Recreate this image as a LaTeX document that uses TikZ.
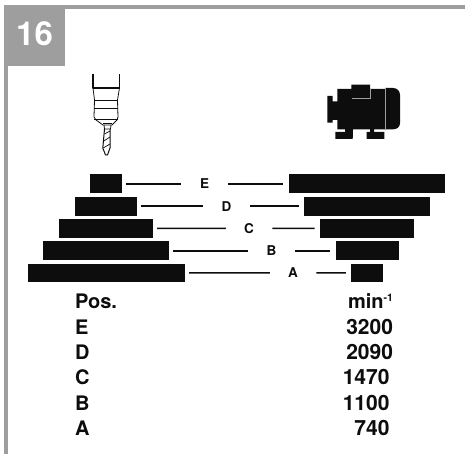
\documentclass[tikz,border=0pt]{standalone}
\usepackage{fontspec}
\setmainfont{TeX Gyre Heros}
\definecolor{framegray}{HTML}{9E9E9E}
\definecolor{ink}{HTML}{0D0D0D}
\tikzset{
  x=1pt,y=-1pt,
  bar/.style={fill=ink,draw=none,inner sep=0pt,outer sep=0pt,anchor=north west},
  conn/.style={draw=ink,line width=1.7pt},
  connl/.style={conn,shorten <=4pt},
  connr/.style={conn,shorten >=5.5pt},
  poslabel/.style={inner sep=0pt,outer sep=0pt,minimum width=46.5pt,minimum height=10pt,text=ink,font=\fontsize{13.5}{14}\bfseries\selectfont},
  tabl/.style={inner sep=0pt,outer sep=0pt,text=ink,anchor=base west,font=\fontsize{20}{21}\bfseries\selectfont},
  tabr/.style={inner sep=0pt,outer sep=0pt,text=ink,anchor=base east,font=\fontsize{21}{22}\bfseries\selectfont},
  tool/.style={draw=ink,line join=round},
}
\newcommand{\barnode}[5]{\node[bar,minimum width=#4pt,minimum height=#5pt] (#1) at (#2,#3) {};}
\begin{document}
\begin{tikzpicture}
\useasboundingbox (0,0) rectangle (465,454);
% frame
\fill[framegray] (4,5) rectangle (465,9);
\fill[framegray] (4,5) rectangle (65,66);
\fill[framegray] (4,66) rectangle (8,453.5);
\node[inner sep=0pt,anchor=base west,text=white,font=\fontsize{33}{34}\bfseries\selectfont] (num) at (16,46) {16};
% drill
\draw[tool,line width=1.1pt] (93,74) -- (93,88) -- (119.5,88) -- (119.5,74);
\draw[tool,line width=0.8pt] (93,88) -- (94.5,100) -- (94,117) -- (96,120) -- (103,125) -- (112,125) -- (117,120) -- (118,117) -- (117.5,100) -- (119.5,88);
\draw[tool,line width=0.6pt] (94.5,100) -- (117.5,100);
\draw[tool,line width=1.6pt] (94.3,108.5) -- (117.7,108.5);
\draw[tool,line width=0.6pt] (94,119) -- (118,119);
\draw[tool,line width=1pt] (103,124) -- (112,124);
\draw[tool,line width=0.8pt] (104,125) -- (104.5,129) -- (110.5,129) -- (111,125);
\draw[tool,line width=1pt] (104.5,129) -- (102.8,148) -- (105.5,155) -- (107.5,155) -- (110,148) -- (110,129);
\draw[tool,line width=0.7pt] (104.5,134) -- (110,131) (103.8,141) -- (110,137) (103.3,148) -- (110,144);
% motor
\fill[ink] (327.3,96) -- (332.7,96) -- (332.7,101.3) -- (337.3,101.3) -- (337.3,89) -- (351.3,89) -- (351.3,84.7) -- (370,84.7) -- (370,89) -- (385,89) -- (385,129.3) -- (374,129.3) -- (374,132) -- (384.3,132) -- (384.3,139) -- (366.7,139) -- (366.7,132) -- (370,132) -- (370,129.3) -- (353,129.3) -- (352.7,139) -- (335.3,139) -- (335.3,132) -- (345,132) -- (345,129.3) -- (337.3,129.3) -- (337.3,120) -- (332.7,120) -- (332.7,122.7) -- (327.3,122.7) -- cycle;
\fill[ink] (385,88) -- (393,88) .. controls (397,88) and (400,91) .. (400,95) -- (400,123) .. controls (400,127) and (397,129.3) .. (393,129.3) -- (385,129.3) -- cycle;
\draw[framegray,line width=0.9pt] (385.3,88) -- (385.3,129.3);
\draw[framegray,line width=0.5pt] (351.7,98) -- (370,98) -- (370,89.5);
% bars left
\barnode{lE}{90}{174.5}{32}{18.5}
\barnode{lD}{75}{196.8}{62}{18.7}
\barnode{lC}{59}{219}{94}{18.7}
\barnode{lB}{43.3}{241.3}{125.7}{18.7}
\barnode{lA}{28}{263.5}{157}{18.7}
% bars right
\barnode{rE}{288.5}{174.5}{156.5}{18.5}
\barnode{rD}{304.3}{196.8}{125.7}{18.7}
\barnode{rC}{320}{219}{94}{18.7}
\barnode{rB}{335.7}{241.3}{63}{18.7}
\barnode{rA}{351.3}{263.5}{31.7}{18.7}
% position labels
\node[poslabel] (pE) at (204.5,183.75) {E};
\node[poslabel] (pD) at (226.5,206.15) {D};
\node[poslabel] (pC) at (249,228.35) {C};
\node[poslabel] (pB) at (271.5,250.65) {B};
\node[poslabel] (pA) at (293,272.85) {A};
\foreach \p in {E,D,C,B,A}{
  \draw[connl] (l\p.east) -- (p\p.west);
  \draw[connr] (p\p.east) -- (r\p.west);
}
% table
\node[tabl] (tPos) at (75,308) {Pos.};
\node[tabl] (tE) at (75,334) {E};
\node[tabl] (tD) at (75,359) {D};
\node[tabl] (tC) at (75,384.5) {C};
\node[tabl] (tB) at (75,410) {B};
\node[tabl] (tA) at (75,435) {A};
\node[tabr,font=\fontsize{20}{21}\bfseries\selectfont] (vmin) at (393,308) {min\raisebox{7pt}{\fontsize{10.5}{11}\selectfont -1}};
\node[tabr] (vE) at (393,334) {3200};
\node[tabr] (vD) at (393,359) {2090};
\node[tabr] (vC) at (389.5,384.5) {1470};
\node[tabr] (vB) at (389.5,410) {1100};
\node[tabr] (vA) at (389.5,435) {740};
\end{tikzpicture}
\end{document}
